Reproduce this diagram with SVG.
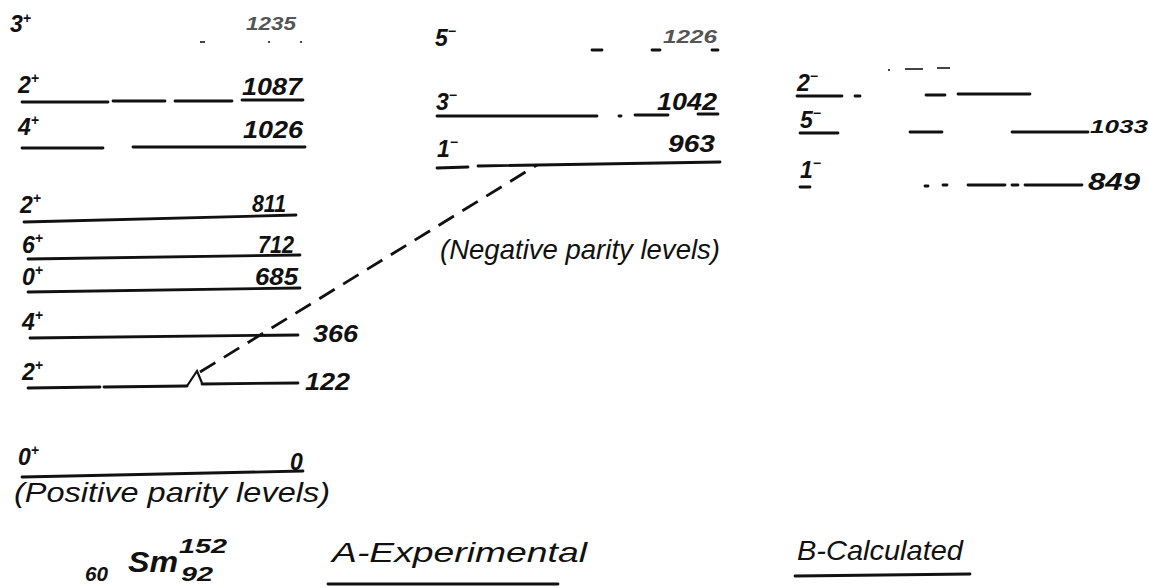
<svg xmlns="http://www.w3.org/2000/svg" width="1149" height="587" viewBox="0 0 1149 587">
<style>
.t{font-family:"Liberation Sans",Arial,sans-serif;font-style:italic;font-weight:bold;fill:#111;}
.j{font-size:23px;}
.e{font-size:23px;}
.sup{font-size:14px;}
.big{font-size:28px;font-weight:normal;}
.lv{stroke:#111;stroke-width:2.8;fill:none;stroke-linecap:round;}
.faint{fill:#555;}
.fl{stroke:#444;stroke-width:2;fill:none;}
</style>
<rect width="1149" height="587" fill="#fff"/>

<g id="left-3plus">
<text class="t j" x="10" y="32" font-size="19">3<tspan class="sup" dy="-9">+</tspan></text>
<text class="t faint" x="246" y="30" font-size="18" textLength="50" lengthAdjust="spacingAndGlyphs">1235</text>
<path class="fl" d="M200 42h5M268 42h2M300 42h2"/>
</g>
<g id="left-2plus-1087">
<text class="t j" x="18" y="93">2<tspan class="sup" dy="-10">+</tspan></text>
<text class="t e" x="242" y="95" textLength="60" lengthAdjust="spacingAndGlyphs">1087</text>
<path class="lv" d="M22 102H108M113 101H165M175 101H232M242 100H303"/>
</g>
<g id="left-4plus-1026">
<text class="t j" x="18" y="135">4<tspan class="sup" dy="-10">+</tspan></text>
<text class="t e" x="243" y="138" textLength="60" lengthAdjust="spacingAndGlyphs">1026</text>
<path class="lv" d="M22 148H103M133 147H305"/>
</g>
<g id="left-2plus-811">
<text class="t j" x="20" y="213">2<tspan class="sup" dy="-10">+</tspan></text>
<text class="t e" x="252" y="212" textLength="34" lengthAdjust="spacingAndGlyphs">811</text>
<path class="lv" d="M24 222L296 215"/>
</g>
<g id="left-6plus-712">
<text class="t j" x="22" y="253">6<tspan class="sup" dy="-10">+</tspan></text>
<text class="t e" x="258" y="253" textLength="36" lengthAdjust="spacingAndGlyphs">712</text>
<path class="lv" d="M28 259L300 255"/>
</g>
<g id="left-0plus-685">
<text class="t j" x="22" y="285">0<tspan class="sup" dy="-10">+</tspan></text>
<text class="t e" x="255" y="285" textLength="43" lengthAdjust="spacingAndGlyphs">685</text>
<path class="lv" d="M28 292L300 288"/>
</g>
<g id="left-4plus-366">
<text class="t j" x="22" y="330">4<tspan class="sup" dy="-10">+</tspan></text>
<path class="lv" d="M30 338L298 335"/>
<text class="t e" x="313" y="342" textLength="45" lengthAdjust="spacingAndGlyphs">366</text>
</g>
<g id="left-2plus-122">
<text class="t j" x="22" y="380">2<tspan class="sup" dy="-10">+</tspan></text>
<path class="lv" d="M28 388L100 387M104 387L187 386M202 384L298 383"/>
<text class="t e" x="305" y="390" textLength="45" lengthAdjust="spacingAndGlyphs">122</text>
</g>
<g id="left-0plus-0">
<text class="t j" x="18" y="465">0<tspan class="sup" dy="-10">+</tspan></text>
<text class="t e" x="290" y="470">0</text>
<path class="lv" d="M22 477L303 471"/>
</g>
<text class="t big" x="14" y="502" font-size="26" textLength="316" lengthAdjust="spacingAndGlyphs">(Positive parity levels)</text>

<g id="mid-5minus-1226">
<text class="t j" x="435" y="46">5<tspan class="sup" dy="-10">−</tspan></text>
<text class="t faint" x="663" y="43" font-size="19" textLength="54" lengthAdjust="spacingAndGlyphs">1226</text>
<path class="lv" d="M592 50h10M652 50h8M712 50h6"/>
</g>
<g id="mid-3minus-1042">
<text class="t j" x="436" y="110">3<tspan class="sup" dy="-10">−</tspan></text>
<text class="t e" x="657" y="110" textLength="60" lengthAdjust="spacingAndGlyphs">1042</text>
<path class="lv" d="M437 116H597M619 116h2M635 115H668M698 114H718"/>
</g>
<g id="mid-1minus-963">
<text class="t j" x="437" y="157">1<tspan class="sup" dy="-10">−</tspan></text>
<text class="t e" x="668" y="152" textLength="47" lengthAdjust="spacingAndGlyphs">963</text>
<path class="lv" d="M437 168L468 167M478 166L720 162"/>
</g>
<text class="t big" x="440" y="259" textLength="280" lengthAdjust="spacingAndGlyphs">(Negative parity levels)</text>

<g id="right-2minus">
<text class="t j" x="797" y="91">2<tspan class="sup" dy="-10">−</tspan></text>
<path class="lv" d="M797 96H842M855 96h5M926 95h19M958 94H1030"/>
<path class="fl" d="M888 70h2M905 69h18M937 68h13"/>
</g>
<g id="right-5minus-1033">
<text class="t j" x="800" y="128">5<tspan class="sup" dy="-10">−</tspan></text>
<path class="lv" d="M800 133H838M910 132H942M1012 132H1088"/>
<text class="t" x="1090" y="133" font-size="19" textLength="58" lengthAdjust="spacingAndGlyphs">1033</text>
</g>
<g id="right-1minus-849">
<text class="t j" x="800" y="178">1<tspan class="sup" dy="-10">−</tspan></text>
<path class="lv" d="M800 187h10M925 186h3M943 185h4M968 185H1005M1012 185h6M1025 185H1082"/>
<text class="t e" x="1088" y="190" textLength="52" lengthAdjust="spacingAndGlyphs">849</text>
</g>

<g id="connectors">
<path d="M200 372L537 165" stroke="#111" stroke-width="2.8" fill="none" stroke-dasharray="18 10"/>
<path d="M187 386L197 371L202 383" stroke="#111" stroke-width="2.2" fill="none"/>
</g>

<g id="nucleus">
<text class="t" x="85" y="581" font-size="20" textLength="23" lengthAdjust="spacingAndGlyphs">60</text>
<text class="t" x="128" y="572" font-size="30" font-weight="normal" textLength="50" lengthAdjust="spacingAndGlyphs">Sm</text>
<text class="t" x="179" y="553" font-size="21" textLength="48" lengthAdjust="spacingAndGlyphs">152</text>
<text class="t" x="181" y="581" font-size="20" textLength="32" lengthAdjust="spacingAndGlyphs">92</text>
</g>
<g id="labelA">
<text class="t big" x="332" y="562" font-size="30" textLength="255" lengthAdjust="spacingAndGlyphs">A-Experimental</text>
<path class="lv" d="M328 584H558"/>
</g>
<g id="labelB">
<text class="t big" x="797" y="560" font-size="30" textLength="166" lengthAdjust="spacingAndGlyphs">B-Calculated</text>
<path class="lv" d="M795 576L970 574"/>
</g>
</svg>
